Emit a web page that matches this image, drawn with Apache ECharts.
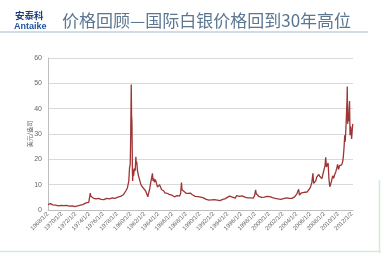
<!DOCTYPE html>
<html><head><meta charset="utf-8">
<script src="https://cdn.jsdelivr.net/npm/echarts@6/dist/echarts.min.js"></script>
<style>html,body{margin:0;padding:0;background:#fff}#c{width:381px;height:253px}</style>
</head><body><div id="c"></div>
<script>
var titleText = '价格回顾—国际白银价格回到30年高位';
var yAxisName = '美元/盎司';
var yTicks = [0, 10, 20, 30, 40, 50, 60];
var xTickYears = [1968,1970,1972,1974,1976,1978,1980,1982,1984,1986,1988,1990,1992,1994,1996,1998,2000,2002,2004,2006,2008,2010,2012];
var dates = [
1968.00,1968.15,1968.35,1968.50,1968.70,1968.90,1969.10,1969.30,1969.50,1969.70,1969.90,
1970.10,1970.30,1970.50,1970.70,1970.90,1971.10,1971.30,1971.50,1971.70,1971.90,
1972.10,1972.30,1972.50,1972.70,1972.90,1973.10,1973.30,1973.50,1973.70,1973.90,
1974.00,1974.12,1974.20,1974.30,1974.45,1974.60,1974.80,1974.95,
1975.10,1975.30,1975.50,1975.70,1975.90,1976.10,1976.30,1976.50,1976.70,1976.90,
1977.10,1977.30,1977.50,1977.70,1977.90,1978.10,1978.30,1978.50,1978.70,1978.90,
1979.10,1979.30,1979.50,1979.70,1979.80,1979.90,1979.97,
1980.05,1980.10,1980.15,1980.22,1980.26,1980.32,1980.40,1980.50,1980.62,1980.72,1980.78,1980.85,1980.95,
1981.10,1981.25,1981.40,1981.55,1981.70,1981.85,
1982.00,1982.15,1982.30,1982.45,1982.55,1982.70,1982.85,1982.95,
1983.12,1983.20,1983.30,1983.40,1983.55,1983.70,1983.85,
1984.00,1984.15,1984.30,1984.45,1984.60,1984.75,1984.90,
1985.10,1985.25,1985.40,1985.55,1985.70,1985.90,1986.10,1986.30,1986.50,1986.70,1986.90,
1987.05,1987.20,1987.32,1987.40,1987.55,1987.70,1987.85,
1988.00,1988.15,1988.30,1988.45,1988.60,1988.75,1988.90,
1989.10,1989.30,1989.50,1989.70,1989.90,1990.10,1990.30,1990.50,1990.70,1990.90,
1991.10,1991.30,1991.50,1991.70,1991.90,1992.10,1992.30,1992.50,1992.70,1992.90,
1993.10,1993.30,1993.50,1993.60,1993.80,1993.95,1994.10,1994.30,1994.50,1994.70,1994.90,
1995.10,1995.30,1995.50,1995.70,1995.90,1996.10,1996.30,1996.50,1996.70,1996.90,
1997.10,1997.30,1997.50,1997.70,1997.90,1998.05,1998.15,1998.30,1998.50,1998.70,1998.90,
1999.10,1999.30,1999.50,1999.70,1999.90,2000.10,2000.30,2000.50,2000.70,2000.90,
2001.10,2001.30,2001.50,2001.70,2001.90,2002.10,2002.30,2002.50,2002.70,2002.90,
2003.10,2003.30,2003.50,2003.70,2003.90,2004.05,2004.20,2004.28,2004.40,2004.55,2004.70,2004.90,
2005.10,2005.30,2005.50,2005.70,2005.90,2006.05,2006.20,2006.35,2006.45,2006.60,2006.75,2006.90,
2007.05,2007.20,2007.35,2007.50,2007.65,2007.80,2007.95,
2008.10,2008.20,2008.30,2008.45,2008.55,2008.65,2008.78,2008.90,
2009.05,2009.20,2009.35,2009.50,2009.65,2009.80,2009.92,
2010.05,2010.20,2010.35,2010.50,2010.65,2010.75,2010.85,2010.95,
2011.02,2011.12,2011.20,2011.28,2011.32,2011.37,2011.42,2011.50,2011.58,2011.65,2011.72,2011.80,2011.88,2011.95,
2012.05,2012.12
];
var prices = [
2.15,2.30,2.50,2.35,2.05,1.95,1.90,1.75,1.65,1.85,1.80,
1.85,1.70,1.65,1.80,1.65,1.55,1.50,1.60,1.40,1.35,
1.45,1.60,1.70,1.90,2.00,2.25,2.40,2.80,2.75,3.00,
3.50,6.70,5.40,5.70,4.80,4.60,4.90,4.40,
4.30,4.60,4.70,4.20,4.30,4.10,4.50,4.60,4.35,4.40,
4.60,4.80,4.50,4.55,4.75,5.10,5.30,5.40,5.60,6.00,
6.30,7.70,8.80,11.50,16.50,18.00,28.50,
49.50,37.00,35.00,15.00,11.50,16.00,13.50,16.50,15.50,21.00,18.00,19.00,15.50,
13.50,12.00,10.50,9.50,10.00,8.50,
8.00,7.40,6.80,5.20,6.50,8.00,10.50,11.00,
14.50,11.50,12.50,11.00,12.00,10.50,9.00,
8.80,10.00,9.00,8.00,7.40,7.60,6.80,
6.10,6.60,6.00,6.20,6.00,5.90,5.80,5.20,5.10,5.70,5.40,
5.50,6.50,10.80,8.00,7.90,7.30,6.80,
6.60,6.40,6.60,7.20,6.70,6.30,6.00,
5.80,5.40,5.20,5.30,5.50,5.10,4.90,4.80,4.70,4.20,
4.00,3.90,4.30,4.00,3.90,4.10,4.00,3.90,3.80,3.70,
3.65,4.20,4.90,4.40,4.30,5.00,5.30,5.50,5.30,5.10,4.80,
4.70,5.70,5.30,5.40,5.20,5.60,5.30,5.10,4.90,4.80,
5.10,4.75,4.40,4.70,5.60,7.90,6.40,6.00,5.40,5.10,5.00,
5.40,5.10,5.30,5.40,5.10,5.30,5.00,4.90,4.85,4.60,
4.50,4.35,4.25,4.20,4.40,4.50,4.60,4.80,4.50,4.60,
4.70,4.60,4.80,5.20,5.50,6.50,7.20,8.20,5.90,6.50,6.80,7.30,
7.00,7.20,7.10,7.30,8.50,9.50,11.00,14.50,10.50,11.20,11.50,13.00,
13.30,14.00,13.20,12.60,12.40,14.20,14.80,
17.50,20.80,17.00,17.50,18.50,13.00,9.20,10.00,
11.50,13.50,12.50,14.00,15.00,16.50,18.00,
16.00,17.50,18.20,17.80,19.00,21.00,24.50,29.50,
27.00,32.00,37.50,43.00,48.70,34.00,37.00,35.00,40.00,43.00,29.50,33.00,31.00,28.00,
32.00,34.00
];

var seriesData = dates.map(function (d, i) { return [d, prices[i]]; });

var chart = echarts.init(document.getElementById('c'), null, {renderer: 'canvas'});
chart.setOption({
  backgroundColor: '#ffffff',
  animation: false,
  title: [
    {text: titleText, left: 57, top: 7, textStyle: {fontFamily: 'Noto Sans CJK SC', fontSize: 17, fontWeight: 'normal', color: '#5b7690'}},
    {text: '安泰科', left: 10, top: 6, textStyle: {fontFamily: 'Noto Sans CJK SC', fontSize: 9.5, fontWeight: 'bold', color: '#1d3c78'}},
    {text: 'Antaike', left: 9, top: 17, textStyle: {fontFamily: 'Liberation Sans', fontSize: 9, fontWeight: 'bold', color: '#1f55a0'}}
  ],
  graphic: [
    {type: 'line', shape: {x1: 0, y1: 32, x2: 368, y2: 32}, style: {stroke: '#c5d0da', lineWidth: 1.5}},
    {type: 'line', shape: {x1: 0, y1: 251.5, x2: 381, y2: 251.5}, style: {stroke: '#d3ecd5', lineWidth: 1.5}},
    {type: 'line', shape: {x1: 379.5, y1: 180, x2: 379.5, y2: 253}, style: {stroke: '#d3ecd5', lineWidth: 1.5}}
  ],
  grid: {left: 48, right: 28, top: 58, bottom: 43},
  xAxis: {
    type: 'value',
    min: 1968,
    max: 2012.15,
    interval: 2,
    axisLine: {show: true, lineStyle: {color: '#bfbfbf'}},
    axisTick: {show: false},
    splitLine: {show: false},
    axisLabel: {
      rotate: 45, fontSize: 6, color: '#666', margin: 3, fontFamily: 'Liberation Sans',
      showMaxLabel: false,
      formatter: function (v) { return xTickYears.indexOf(v) >= 0 ? v + '/1/2' : ''; }
    }
  },
  yAxis: {
    type: 'value',
    min: yTicks[0],
    max: yTicks[yTicks.length - 1],
    interval: 10,
    name: yAxisName,
    nameLocation: 'middle',
    nameGap: 15,
    nameRotate: 90,
    nameMoveOverlap: false,
    nameTextStyle: {fontSize: 6, color: '#666', fontFamily: 'Noto Sans CJK SC'},
    axisLine: {show: true, lineStyle: {color: '#bfbfbf'}},
    axisTick: {show: false},
    splitLine: {lineStyle: {color: '#d9d9d9'}},
    axisLabel: {fontSize: 7, color: '#666', margin: 6, fontFamily: 'Liberation Sans'}
  },
  series: [{
    type: 'line',
    data: seriesData,
    showSymbol: false,
    lineStyle: {color: '#9e3434', width: 1.3},
    itemStyle: {color: '#9e3434'}
  }]
});
</script></body></html>
